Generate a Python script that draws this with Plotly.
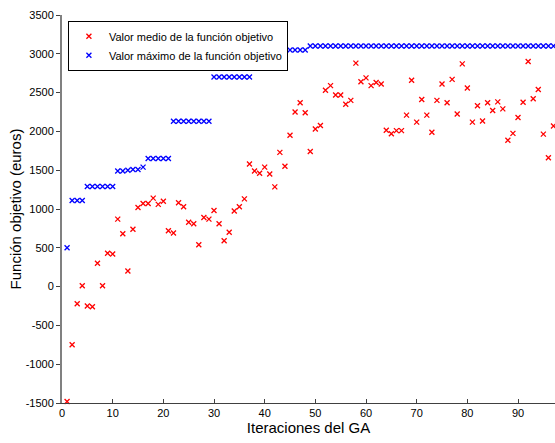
import plotly.graph_objects as go

iterations = list(range(1, 98))

valor_medio = [
    -1480, -750, -220, 10, -250, -260, 300, 10, 430, 420,
    870, 680, 200, 740, 1020, 1070, 1070, 1140, 1060, 1100,
    720, 690, 1080, 1030, 830, 810, 540, 890, 870, 980,
    810, 590, 700, 975, 1030, 1130, 1580, 1490, 1460, 1540,
    1450, 1285, 1730, 1550, 1950, 2250, 2370, 2240, 1740, 2030,
    2075, 2530, 2590, 2470, 2470, 2350, 2400, 2880, 2640, 2690,
    2590, 2630, 2610, 2015, 1970, 2010, 2010, 2210, 2660, 2120,
    2410, 2210, 1990, 2400, 2610, 2370, 2670, 2225, 2870, 2560,
    2120, 2330, 2135, 2370, 2270, 2380, 2290, 1885, 1975, 2180,
    2375, 2900, 2420, 2540, 1965, 1660, 2070,
]

valor_maximo = (
    [500]
    + [1110] * 3
    + [1290] * 6
    + [1490, 1490, 1500, 1510, 1510, 1540]
    + [1650] * 5
    + [2130] * 8
    + [2700] * 8
    + [2920] * 4
    + [3050] * 7
    + [3100] * 49
)

x_ticks = [0, 10, 20, 30, 40, 50, 60, 70, 80, 90]
y_ticks = [-1500, -1000, -500, 0, 500, 1000, 1500, 2000, 2500, 3000, 3500]

font = "Liberation Sans, Arial, Helvetica, sans-serif"

fig = go.Figure()
fig.add_trace(go.Scatter(
    x=iterations, y=valor_medio, mode="markers", cliponaxis=False,
    name="Valor medio de la función objetivo",
    marker=dict(symbol="x-thin", size=5, line=dict(color="#ff0000", width=1.3), color="#ff0000"),
))
fig.add_trace(go.Scatter(
    x=iterations, y=valor_maximo, mode="markers", cliponaxis=False,
    name="Valor máximo de la función objetivo",
    marker=dict(symbol="x-thin", size=5, line=dict(color="#0000ff", width=1.3), color="#0000ff"),
))

fig.update_layout(
    width=555, height=443,
    margin=dict(l=62, r=0, t=15, b=40, autoexpand=False),
    paper_bgcolor="white", plot_bgcolor="white",
    font=dict(family=font, size=11, color="black"),
    showlegend=True,
    legend=dict(
        x=0.012, y=0.985, xanchor="left", yanchor="top",
        bgcolor="white", bordercolor="black", borderwidth=1,
        font=dict(size=11), tracegroupgap=0, itemwidth=30,
    ),
    xaxis=dict(
        range=[0, 97.3], tickvals=x_ticks, ticktext=[str(v) for v in x_ticks],
        showgrid=False, zeroline=False, showline=True, linecolor="#404040", linewidth=1,
        ticks="inside", ticklen=4, tickcolor="#404040", automargin=False,
        tickfont=dict(size=11),
        title=dict(text="Iteraciones del GA", font=dict(size=15), standoff=0),
    ),
    yaxis=dict(
        range=[-1500, 3500], tickvals=y_ticks, ticktext=[str(v) for v in y_ticks],
        showgrid=False, zeroline=False, showline=True, linecolor="#808080", linewidth=2,
        ticks="outside", ticklen=4, tickcolor="#404040", automargin=False,
        tickfont=dict(size=11),
        title=dict(text="Función objetivo (euros)", font=dict(size=15), standoff=0),
    ),
)

# remove the default 8px page margin so the figure fills the window exactly
fig.write_html(
    "out.html",
    config={"displayModeBar": False},
    post_script="document.body.style.margin='0';document.body.style.overflow='hidden';",
)
